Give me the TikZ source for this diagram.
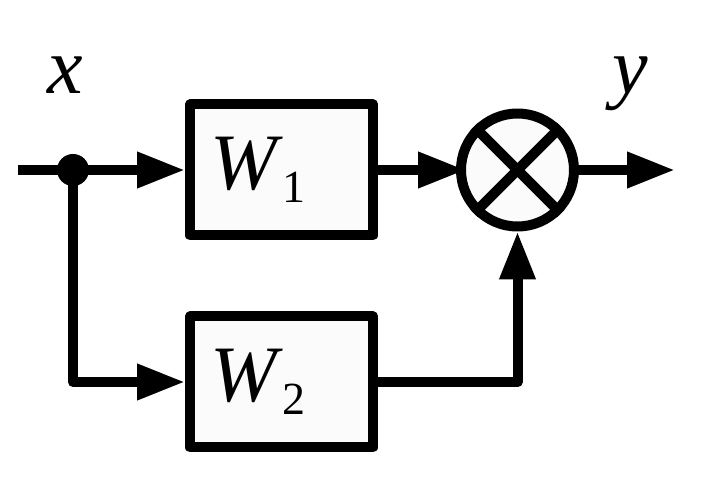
\documentclass[tikz,border=0pt]{standalone}
\usepackage{fontspec}
\setmainfont{Liberation Serif}
\usetikzlibrary{arrows.meta,positioning}

\begin{document}
\begin{tikzpicture}[x=1pt,y=-1pt,>={Triangle[length=48pt,width=34pt]},
        line width=10pt,line join=round,node distance=73pt,
        font=\fontsize{80}{80}\selectfont]
        \tikzstyle{block}=[draw,fill={rgb:black,1;white,60},minimum width=183pt,
          minimum height=131pt,text width=143pt,inner xsep=20pt,inner ysep=0pt]
        \tikzstyle{summer}=[draw,circle,fill={rgb:black,1;white,60},
          minimum size=113pt,inner sep=0pt]
        \tikzstyle{dot}=[circle,fill,minimum size=32pt,inner sep=0pt]
  \useasboundingbox (0,0) rectangle (716,489);
  \coordinate (in) at (18,170);
  \node[dot] (j) at (73,170) {};
  \node[block] (W1) at (281.5,170) {\textit{W}\raisebox{-13pt}{\fontsize{46}{46}\selectfont 1}};
  \node[block] (W2) [below=71pt of W1] {\textit{W}\raisebox{-13pt}{\fontsize{46}{46}\selectfont 2}};
  \node[summer] (S) [right=78pt of W1] {};
  \coordinate (out) at (675,170);
  \node (x) at (65,75) {\textit{x}};
  \node (y) at (630,84) {\textit{y}};

  \draw (S.45) -- (S.225);
  \draw (S.135) -- (S.315);
  \draw (in) -- (j.center);
  \draw[->] (j.center) -- (W1);
  \draw[->] (j.center) |- (W2);
  \draw[->,shorten >=-10pt] (W1) -- (S);
  \draw[->] (W2) -| (S);
  \draw[->] (S) -- (out);
\end{tikzpicture}
\end{document}
